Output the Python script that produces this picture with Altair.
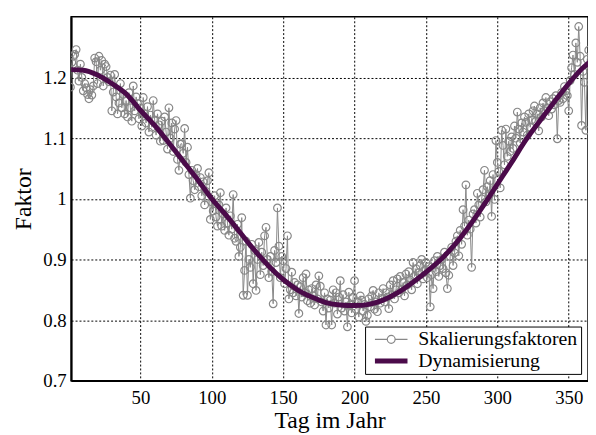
import altair as alt
import pandas as pd

# Daily scaling factors (Skalierungsfaktoren), day 1..365
faktoren = [
    1.184, 1.225, 1.235, 1.238, 1.246, 1.212, 1.194, 1.222, 1.200, 1.178,
    1.190, 1.183, 1.172, 1.165, 1.180, 1.171, 1.186, 1.232, 1.226, 1.190,
    1.235, 1.212, 1.228, 1.186, 1.222, 1.218, 1.200, 1.193, 1.204, 1.145,
    1.176, 1.205, 1.168, 1.140, 1.158, 1.190, 1.150, 1.172, 1.140, 1.162,
    1.135, 1.175, 1.150, 1.128, 1.186, 1.145, 1.168, 1.157, 1.132, 1.150,
    1.120, 1.167, 1.140, 1.125, 1.152, 1.110, 1.138, 1.118, 1.162, 1.130,
    1.105, 1.140, 1.122, 1.095, 1.128, 1.096, 1.135, 1.110, 1.082, 1.150,
    1.100, 1.125, 1.078, 1.115, 1.129, 1.065, 1.047, 1.090, 1.091, 1.075,
    1.116, 1.060, 1.085, 1.040, 1.001, 1.047, 1.030, 1.015, 1.040, 1.050,
    1.020, 1.035, 1.005, 1.028, 0.990, 1.012, 1.030, 1.043, 0.966, 0.995,
    0.980, 1.005, 0.970, 0.955, 0.990, 1.010, 0.955, 0.975, 0.948, 0.985,
    0.960, 0.940, 0.972, 0.950, 1.007, 0.935, 0.930, 0.958, 0.905, 0.920,
    0.969, 0.841, 0.882, 0.930, 0.841, 0.900, 0.887, 0.925, 0.860, 0.915,
    0.849, 0.900, 0.928, 0.875, 0.912, 0.890, 0.939, 0.953, 0.900, 0.870,
    0.905, 0.880, 0.827, 0.915, 0.895, 0.985, 0.922, 0.870, 0.905, 0.898,
    0.860, 0.885, 0.939, 0.835, 0.850, 0.879, 0.845, 0.862, 0.840, 0.858,
    0.811, 0.855, 0.838, 0.870, 0.845, 0.876, 0.832, 0.850, 0.828, 0.852,
    0.840, 0.825, 0.858, 0.835, 0.873, 0.856, 0.830, 0.815, 0.845, 0.792,
    0.835, 0.820, 0.833, 0.792, 0.850, 0.828, 0.845, 0.810, 0.838, 0.865,
    0.820, 0.842, 0.815, 0.830, 0.789, 0.846, 0.825, 0.812, 0.838, 0.865,
    0.818, 0.830, 0.805, 0.840, 0.833, 0.815, 0.826, 0.798, 0.808, 0.835,
    0.822, 0.840, 0.849, 0.818, 0.830, 0.814, 0.845, 0.828, 0.836, 0.852,
    0.830, 0.845, 0.838, 0.819, 0.858, 0.842, 0.865, 0.835, 0.850, 0.868,
    0.845, 0.872, 0.850, 0.862, 0.840, 0.876, 0.858, 0.880, 0.866, 0.850,
    0.895, 0.872, 0.885, 0.860, 0.878, 0.890, 0.900, 0.868, 0.882, 0.895,
    0.870, 0.888, 0.822, 0.875, 0.852, 0.898, 0.880, 0.905, 0.872, 0.890,
    0.900, 0.885, 0.912, 0.878, 0.852, 0.874, 0.905, 0.920, 0.890, 0.911,
    0.930, 0.939, 0.906, 0.948, 0.925, 0.982, 0.955, 1.023, 0.940, 0.965,
    0.950, 0.887, 0.975, 0.982, 0.960, 1.009, 0.990, 0.970, 1.000, 1.015,
    1.047, 0.995, 1.020, 1.005, 1.030, 0.971, 1.040, 0.999, 1.096, 1.060,
    1.045, 1.018, 1.113, 1.088, 1.056, 1.115, 1.070, 1.095, 1.078, 1.102,
    1.083, 1.120, 1.100, 1.143, 1.115, 1.092, 1.125, 1.110, 1.135, 1.126,
    1.105, 1.140, 1.118, 1.130, 1.145, 1.153, 1.128, 1.140, 1.112, 1.150,
    1.135, 1.158, 1.145, 1.167, 1.150, 1.137, 1.160, 1.148, 1.165, 1.155,
    1.170, 1.099, 1.162, 1.159, 1.175, 1.165, 1.185, 1.178, 1.170, 1.145,
    1.195, 1.216, 1.237, 1.205, 1.257, 1.225, 1.284, 1.235, 1.121, 1.210,
    1.192, 1.113, 1.230, 1.245, 1.220,
]
tage = list(range(1, len(faktoren) + 1))

# Smooth dynamisation curve (Dynamisierung)
dyn_tage = [1, 10, 20, 30, 40, 50, 60, 70, 80, 90, 100, 110, 120, 130, 140,
            150, 160, 170, 180, 190, 200, 210, 220, 230, 240, 250, 260, 270,
            280, 290, 300, 310, 320, 330, 340, 350, 360, 365]
dyn_werte = [1.213, 1.212, 1.204, 1.190, 1.173, 1.146, 1.121, 1.092, 1.062,
             1.032, 1.000, 0.973, 0.944, 0.915, 0.889, 0.867, 0.850, 0.838,
             0.829, 0.825, 0.824, 0.826, 0.833, 0.845, 0.861, 0.879, 0.899,
             0.924, 0.954, 0.988, 1.024, 1.060, 1.097, 1.129, 1.160, 1.190,
             1.216, 1.226]

serien = ["Skalierungsfaktoren", "Dynamisierung"]
farben = ["#888888", "#4b0b4a"]
x_ticks = [50, 100, 150, 200, 250, 300, 350]
y_ticks = [0.7, 0.8, 0.9, 1.0, 1.1, 1.2]

df_s = pd.DataFrame({"tag": tage, "wert": faktoren, "serie": serien[0]})
df_d = pd.DataFrame({"tag": dyn_tage, "wert": dyn_werte, "serie": serien[1]})

FONT = "Liberation Serif"

xenc = alt.X("tag:Q",
             scale=alt.Scale(domain=[1.5, 363.5], nice=False, zero=False),
             axis=alt.Axis(values=x_ticks, title="Tag im Jahr", grid=True,
                           ticks=False, labelPadding=8, titleY=47,
                           titleBaseline="alphabetic", domainWidth=1.5))
yenc = alt.Y("wert:Q",
             scale=alt.Scale(domain=[0.7, 1.3], nice=False, zero=False),
             axis=alt.Axis(values=y_ticks, format="~g", title="Faktor",
                           grid=True, ticks=False, labelPadding=5,
                           titleX=-41, titleY=184.5, titleAngle=-90,
                           titleBaseline="alphabetic", titleAlign="center",
                           domainWidth=2))

sym_skal = "M-0.3,0L0.95,0M1.75,0L3,0M1.75,0A0.4,0.4,0,1,1,0.95,0A0.4,0.4,0,1,1,1.75,0"
sym_dyn = "M-0.3,0L3,0"

legend = alt.Legend(
    title=None, orient="none", legendX=298, legendY=314,
    symbolSize=400, labelOffset=31, padding=3, rowPadding=2,
    labelFont=FONT, labelFontSize=20, labelColor="black", labelLimit=400,
    strokeColor="black", fillColor="white",
    labelExpr="datum.label + '\u00a0\u00a0'",
    symbolType={"expr": f"datum.value === 'Dynamisierung' ? '{sym_dyn}' : '{sym_skal}'"},
    symbolStrokeWidth={"expr": "datum.value === 'Dynamisierung' ? 5 : 1.2"},
    symbolFillColor="transparent",
    symbolOpacity=1,
)

color = alt.Color("serie:N", scale=alt.Scale(domain=serien, range=farben),
                  legend=legend)

base_s = alt.Chart(df_s)
linie_s = base_s.mark_line(strokeWidth=1, clip=True).encode(x=xenc, y=yenc, color=color)
punkte_s = base_s.mark_point(shape="circle", filled=False, size=60,
                             strokeWidth=1.2, opacity=1, clip=True).encode(
    x=xenc, y=yenc, color=color)
linie_d = alt.Chart(df_d).mark_line(strokeWidth=5, interpolate="monotone",
                                    clip=True).encode(x=xenc, y=yenc, color=color)

chart = alt.layer(linie_s, punkte_s, linie_d).properties(
    width=524, height=369,
    autosize=alt.AutoSizeParams(type="none"),
    padding={"left": 64, "top": 6, "right": 0, "bottom": 52},
    background="white",
).configure_view(
    stroke="black", strokeWidth=1.5
).configure_axis(
    labelFont=FONT, labelFontSize=19, labelColor="black",
    titleFont=FONT, titleFontSize=24, titleFontWeight="normal", titleColor="black",
    gridColor="black", gridDash=[2, 2], gridWidth=1, gridOpacity=1,
    domainColor="black",
)

chart.save("out.html", embed_options={"renderer": "svg", "actions": False})
